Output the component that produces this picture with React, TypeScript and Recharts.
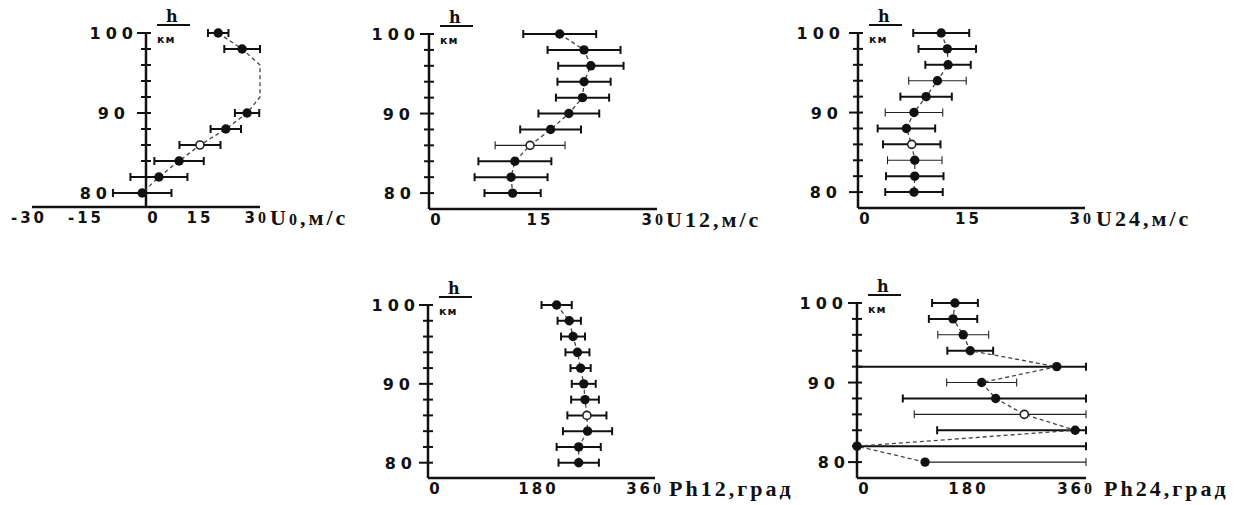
import { ScatterChart, Scatter, XAxis, YAxis, ErrorBar, ReferenceLine } from 'recharts';

// heights, km (top to bottom, the order the dashed line follows)
const heights = [100, 98, 96, 94, 92, 90, 88, 86, 84, 82, 80];
const heightTicks = [80, 82, 84, 86, 88, 90, 92, 94, 96, 98, 100];

// U0, m/s: 96..92 km are off the plot (> 30), kept on the edge for the dashed line only
const u0 = [19.0, 25.3, 30, 30, 30, 26.6, 21.0, 14.2, 8.7, 3.4, -1.0];
const u0Err = [2.7, 4.7, null, null, null, 3.2, 4.0, 5.4, 6.5, 7.5, 7.7];

const u12 = [17.2, 20.4, 21.3, 20.4, 20.2, 18.4, 16.0, 13.3, 11.3, 10.8, 11.0];
const u12Err = [4.8, 4.8, 4.3, 3.5, 3.5, 4.0, 4.0, 4.6, 4.8, 4.8, 3.7];

const u24 = [11.0, 11.8, 11.9, 10.5, 9.0, 7.4, 6.4, 7.1, 7.5, 7.5, 7.4];
const u24Err = [3.7, 3.8, 3.0, 3.8, 3.4, 3.8, 3.8, 3.8, 3.6, 3.8, 3.8];

const ph12 = [204, 224, 230, 237, 242, 247, 249, 252, 253, 239, 239];
const ph12Err = [24, 18.5, 19, 19, 16, 19, 22, 31, 39, 35, 32];

// Ph24: error bars run into the 0 / 360 limits, so they are asymmetric
const ph24 = [154, 151, 167, 178, 314, 196, 218, 263, 343, 0, 107];
const ph24ErrLow = [36, 38, 40, 36, 314, 55, 146, 173, 217, 0, 0];
const ph24ErrHigh = [36, 38, 40, 36, 46, 55, 142, 97, 17, 360, 253];

const u0Ticks = [-30, -15, 0, 15, 30];
const uTicks = [0, 15, 30];
const phTicks = [0, 180, 360];

type Err = number | [number, number] | null;

function buildRows(values: number[], errs: Err[], thin: number[]) {
  return heights.map((h, i) => {
    const e = errs[i];
    const isThin = thin.includes(h);
    return {
      h,
      v: values[i],
      errBold: isThin ? null : e,
      errThin: isThin ? e : null,
      mark: e == null ? 'none' : h === 86 ? 'open' : 'dot',
    };
  });
}

const INK = '#111';

const PANELS = [
  {
    key: 'u0', left: 0, top: 0, width: 380, height: 245,
    x0: 32, x1: 260, yTop: 33, yBot: 207, yMin: 78.25,
    xDomain: [-30, 30], xTicks: u0Ticks, axisAtZero: true,
    name: 'U0,м/с', nameDx: 10, gaps: { 100: 13, 90: 21, 80: 39 } as Record<number, number>,
    rows: buildRows(u0, u0Err, []),
  },
  {
    key: 'u12', left: 369, top: 0, width: 430, height: 245,
    x0: 429, x1: 657, yTop: 34, yBot: 209, yMin: 78,
    xDomain: [0, 30], xTicks: uTicks, axisAtZero: false,
    name: 'U12,м/с', nameDx: 9, gaps: { 100: 14, 90: 19, 80: 18 } as Record<number, number>,
    rows: buildRows(u12, u12Err, [86]),
  },
  {
    key: 'u24', left: 798, top: 0, width: 455, height: 245,
    x0: 858, x1: 1085, yTop: 33, yBot: 208, yMin: 78,
    xDomain: [0, 30], xTicks: uTicks, axisAtZero: false,
    name: 'U24,м/с', nameDx: 11, gaps: { 100: 18, 90: 20, 80: 21 } as Record<number, number>,
    rows: buildRows(u24, u24Err, [94, 90, 84]),
  },
  {
    key: 'ph12', left: 368, top: 250, width: 460, height: 255,
    x0: 428, x1: 655, yTop: 305, yBot: 478, yMin: 78.06,
    xDomain: [0, 360], xTicks: phTicks, axisAtZero: false,
    name: 'Ph12,град', nameDx: 14, gaps: { 100: 13, 90: 18, 80: 16 } as Record<number, number>,
    rows: buildRows(ph12, ph12Err, []),
  },
  {
    key: 'ph24', left: 797, top: 250, width: 456, height: 255,
    x0: 857, x1: 1086, yTop: 303, yBot: 478, yMin: 78,
    xDomain: [0, 360], xTicks: phTicks, axisAtZero: false,
    name: 'Ph24,град', nameDx: 18, gaps: { 100: 14, 90: 22, 80: 12 } as Record<number, number>,
    rows: buildRows(ph24, ph24ErrLow.map((lo, i) => [lo, ph24ErrHigh[i]] as [number, number]), [96, 90, 86, 80]),
  },
];

function HeightTick({ x, y, value, gaps }: { x: number; y: number; value: number; gaps: Record<number, number> }) {
  const labeled = value % 10 === 0;
  return (
    <g>
      <line x1={x - (labeled ? 9 : 5)} x2={x + 5} y1={y} y2={y} stroke={INK} strokeWidth={2} />
      {labeled && (
        <text
          x={x - gaps[value] + 5}
          y={y + 6}
          textAnchor="end"
          fontFamily="DejaVu Sans"
          fontWeight="bold"
          fontSize={16}
          letterSpacing={5}
          fill={INK}
        >
          {value}
        </text>
      )}
    </g>
  );
}

function ValueTick(props: any) {
  const { x, y, payload, ticks } = props;
  const v = payload.value;
  const s = String(v);
  const last = v === ticks[ticks.length - 1];
  let anchor = 'middle';
  let dx = -3;
  if (v === 0) dx = 8;
  if (last) {
    anchor = 'end';
    dx = 9;
  }
  return (
    <text
      x={x + dx}
      y={y + 16}
      textAnchor={anchor}
      fontFamily="DejaVu Sans"
      fontWeight="bold"
      fontSize={15}
      letterSpacing={3}
      fill={INK}
    >
      {last ? (
        <>
          {s.slice(0, -1)}
          <tspan fontFamily="Liberation Serif" fontSize={16}>{s.slice(-1)}</tspan>
        </>
      ) : (
        s
      )}
    </text>
  );
}

function Marker(p: any) {
  const { cx, cy, payload } = p;
  if (cx == null || payload.mark === 'none') return <g />;
  if (payload.mark === 'open') {
    return <circle cx={cx} cy={cy} r={4} fill="#fff" stroke="#222" strokeWidth={1.6} />;
  }
  return <circle cx={cx} cy={cy} r={4.7} fill={INK} />;
}

const unitLabel = (props: any) => {
  const vb = props.viewBox ?? {};
  const ax = (vb.x ?? 0) + (vb.width ?? 0);
  const top = vb.y ?? 0;
  return (
    <g>
      <text x={ax + 20} y={top - 11} fontFamily="DejaVu Serif" fontWeight="bold" fontSize={16} fill={INK}>h</text>
      <line x1={ax + 11} x2={ax + 44} y1={top - 8} y2={top - 8} stroke={INK} strokeWidth={1.8} />
      <text x={ax + 11} y={top + 10} fontFamily="DejaVu Sans" fontWeight="bold" fontSize={11} letterSpacing={1} fill={INK}>км</text>
    </g>
  );
};

const nameLabel = (name: string, dx: number) => (props: any) => {
  const vb = props.viewBox ?? {};
  const x = (vb.x ?? 0) + (vb.width ?? 0) + dx;
  const y = (vb.y ?? 0) + 18;
  return (
    <text x={x} y={y} fontFamily="Liberation Serif" fontWeight="bold" fontSize={22} letterSpacing={3} fill={INK}>
      {[...name].map((c, i) =>
        c === '0' ? <tspan key={i} fontSize={16}>{c}</tspan> : <tspan key={i}>{c}</tspan>
      )}
    </text>
  );
};

function Panel({ cfg }: { cfg: (typeof PANELS)[number] }) {
  const yAxisW = cfg.axisAtZero ? 0 : 60;
  const xAxisH = 26;
  const margin = {
    left: cfg.x0 - cfg.left - yAxisW,
    right: cfg.left + cfg.width - cfg.x1,
    top: cfg.yTop - cfg.top,
    bottom: cfg.top + cfg.height - cfg.yBot - xAxisH,
  };
  const axisTicks = heightTicks.map((h) => ({ v: 0, h }));

  return (
    <div style={{ position: 'absolute', left: cfg.left, top: cfg.top }}>
      <ScatterChart width={cfg.width} height={cfg.height} margin={margin}>
        <XAxis
          type="number"
          dataKey="v"
          domain={cfg.xDomain}
          ticks={cfg.xTicks}
          interval={0}
          height={xAxisH}
          tickLine={false}
          tickSize={0}
          tickMargin={0}
          axisLine={{ stroke: INK, strokeWidth: 2.5 }}
          tick={(p: any) => <ValueTick {...p} ticks={cfg.xTicks} />}
          label={nameLabel(cfg.name, cfg.nameDx)}
        />
        {cfg.axisAtZero ? (
          <YAxis hide type="number" dataKey="h" domain={[cfg.yMin, 100]} />
        ) : (
          <YAxis
            type="number"
            dataKey="h"
            width={yAxisW}
            domain={[cfg.yMin, 100]}
            ticks={heightTicks}
            interval={0}
            tickLine={false}
            tickSize={0}
            tickMargin={0}
            axisLine={{ stroke: INK, strokeWidth: 2.5 }}
            tick={(p: any) => <HeightTick x={p.x} y={p.y} value={p.payload.value} gaps={cfg.gaps} />}
            label={unitLabel}
          />
        )}
        {cfg.axisAtZero && (
          <ReferenceLine x={0} stroke={INK} strokeWidth={2.5} label={unitLabel} />
        )}
        {cfg.axisAtZero && (
          <Scatter
            data={axisTicks}
            isAnimationActive={false}
            shape={(p: any) => <HeightTick x={p.cx} y={p.cy} value={p.payload.h} gaps={cfg.gaps} />}
          />
        )}
        <Scatter
          data={cfg.rows}
          isAnimationActive={false}
          line={{ stroke: '#444', strokeWidth: 1.3, strokeDasharray: '4 3' }}
          lineType="joint"
          shape={Marker}
        >
          <ErrorBar dataKey="errBold" direction="x" width={4} stroke={INK} strokeWidth={2} isAnimationActive={false} />
          <ErrorBar dataKey="errThin" direction="x" width={4} stroke="#222" strokeWidth={1.1} isAnimationActive={false} />
        </Scatter>
      </ScatterChart>
    </div>
  );
}

export default function App() {
  return (
    <div style={{ position: 'absolute', left: 0, top: 0, width: 1253, height: 505, background: '#fff', overflow: 'hidden' }}>
      {PANELS.map((cfg) => (
        <Panel key={cfg.key} cfg={cfg} />
      ))}
    </div>
  );
}
